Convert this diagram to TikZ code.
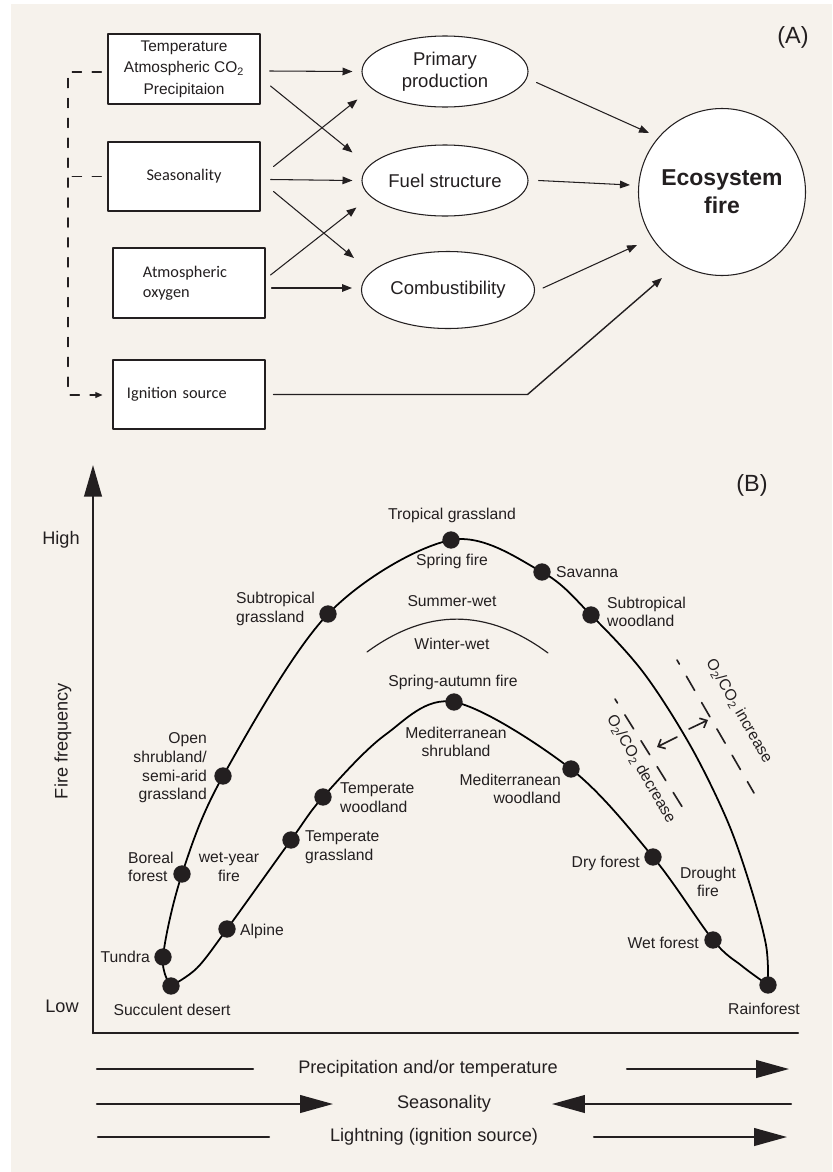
\documentclass[tikz,border=0pt]{standalone}
\usepackage{fontspec}
\setmainfont{Liberation Sans}
\newfontfamily\calibri{Carlito}
\usetikzlibrary{arrows.meta, calc, shapes.geometric}
\definecolor{paper}{RGB}{246,242,236}
\definecolor{ink}{RGB}{35,31,32}
\pgfdeclarelayer{bg}
\pgfdeclarelayer{lines}
\pgfsetlayers{bg,lines,main}

\begin{document}
\begin{tikzpicture}[x=0.03cm, y=-0.03cm, >=Latex, line cap=round, line join=round, color=ink,
	cause/.style={draw=ink, fill=white, line width=0.9pt, inner sep=0pt, minimum width=4.56cm,
		minimum height=2.1cm, align=center, font=\fontsize{13.2}{18.3}\selectfont},
	causeC/.style={cause, align=left, font=\calibri\fontsize{13.9}{17}\selectfont},
	effect/.style={ellipse, draw=ink, fill=white, line width=0.9pt, inner sep=0pt, minimum width=4.98cm,
		minimum height=2.13cm, align=center, font=\fontsize{15.8}{18.8}\selectfont},
	arr/.style={-{Triangle[length=8.5pt,width=6.5pt]}, line width=0.9pt},
	dashline/.style={line width=0.9pt, dash pattern=on 8pt off 9pt},
	site/.style={circle, fill=ink, inner sep=0pt, minimum size=0.52cm},
	lab/.style={inner sep=0pt, font=\fontsize{13.4}{16}\selectfont},
	axislab/.style={inner sep=0pt, font=\fontsize{15.5}{18}\selectfont},
	fireline/.style={line width=1.5pt},
	o2line/.style={line width=1.4pt, dash pattern=on 14pt off 12pt, dash phase=10pt},
	trend/.style={line width=1.8pt},
	bigtip/.style={-{Triangle[length=28pt,width=15pt]}}]

\begin{pgfonlayer}{bg}
	\fill[white] (0,0) rectangle (832,1172);
	\fill[paper] (11,4) rectangle (832,1172);
\end{pgfonlayer}
\useasboundingbox (0,0) rectangle (832,1172);

% ==== (A): drivers of ecosystem fire ====
\begin{scope}
	\node[font=\fontsize{20}{24}\selectfont] (panelA) at (793,37) {(A)};
	
	% drivers
	\node[cause] (clim) at (184,69) {Temperature\\Atmospheric CO\textsubscript{2}\\Precipitaion};
	\node[causeC, align=center, minimum height=2.07cm] (seas) at (184,176.5) {Seasonality};
	\node[causeC, text width=2.76cm, inner xsep=0.9cm] (oxy) at (189,283) {Atmospheric\\oxygen};
	\node[causeC, text width=3.72cm, inner xsep=0.42cm, minimum height=2.07cm] (ign) at (189,394.5) {Ignition source};
	
	% fuel properties
	\node[effect] (prod) at (445,71.5) {Primary\\production};
	\node[effect] (fuel) at (445,180.5) {Fuel structure};
	\node[effect, minimum width=5.19cm, minimum height=2.31cm] (comb) at (448,290) {Combustibility};
	
	\node[circle, draw=ink, fill=white, line width=0.9pt, inner sep=0pt, minimum size=5.01cm, align=center,
	font=\bfseries\fontsize{19.6}{24}\selectfont] (fire) at (722,192) {Ecosystem\\fire};
	
	% drivers -> fuel properties
	\draw[arr] ($(clim.east)+(9,2)$) -- ($(prod.west)+(-9,0)$);
	\draw[arr] ($(clim.east)+(10,17)$) -- ($(fuel.west)+(-9,-28)$);
	\draw[arr] ($(seas.east)+(13,-10)$) -- ($(prod.west)+(-4,28)$);
	\draw[arr] ($(seas.east)+(10,3)$) -- ($(fuel.west)+(-9,0)$);
	\draw[arr] ($(seas.east)+(13,15)$) -- ($(comb.west)+(-7,-32)$);
	\draw[arr] ($(oxy.east)+(5,-8)$) -- ($(fuel.west)+(-5,27)$);
	\draw[arr] ($(oxy.east)+(6,5)$) -- ($(comb.west)+(-9,-2)$);
	
	% fuel properties -> fire
	\draw[arr] ($(prod.east)+(8,11)$) -- ($(fire.center)+(-73,-59)$);
	\draw[arr] ($(fuel.east)+(10,0)$) -- ($(fire.west)+(-8,-7)$);
	\draw[arr] ($(comb.east)+(8,-2)$) -- ($(fire.center)+(-85,53)$);
	\draw[arr, line width=1.2pt] ($(ign.east)+(8,0)$) -- ++(254,0) -- ($(fire.center)+(-60,86)$);
	
	% climate link to ignition
	\coordinate (dtop) at (68,72);
	\coordinate (dbot) at (68,395);
	\draw[dashline, -{Triangle[length=6pt,width=5pt]}] ($(clim.west)+(-6,3)$) -- (dtop) -- (dbot) -- ($(ign.west)+(-10,0.5)$);
	\draw[dashline] ($(seas.west)+(-6,0)$) -- (dtop |- seas.west);
\end{scope}

% ==== (B): fire frequency along the climate gradient ====
\begin{scope}
	\node[font=\fontsize{20}{24}\selectfont] (panelB) at (752,485) {(B)};
	
	% axes
	\coordinate (orig) at (93,1033);
	\coordinate (ytop) at (93,465);
	\coordinate (xend) at (798,1033);
	\draw[line width=2pt, -{Triangle[length=27pt,width=15pt]}] (orig) -- (ytop);
	\draw[line width=2pt] (orig) -- (xend);
	\node[axislab] (high) at (61,540) {High};
	\node[axislab] (low) at (62,1006) {Low};
	\node[axislab, rotate=90] (freq) at (63,741) {Fire frequency};
	
	% biomes
	\node[site] (desert) at (171,986) {};
	\node[site] (tundra) at (163,957) {};
	\node[site] (boreal) at (182,874) {};
	\node[site] (shrub) at (223,776) {};
	\node[site] (subgrass) at (328,614) {};
	\node[site] (tropgrass) at (451,540) {};
	\node[site] (savanna) at (542,572) {};
	\node[site] (subwood) at (591,615) {};
	\node[site] (rain) at (768,985) {};
	\node[site] (alpine) at (227,929) {};
	\node[site] (tempgrass) at (291,840) {};
	\node[site] (tempwood) at (323,797) {};
	\node[site] (medshrub) at (454,702) {};
	\node[site] (medwood) at (571,769) {};
	\node[site] (dryfor) at (653,857) {};
	\node[site] (wetfor) at (713,940) {};
	
	\coordinate (o1) at (643,672);
	\coordinate (o2) at (690,745);
	\coordinate (o3) at (727,820);
	\coordinate (o4) at (750,885);
	\coordinate (o5) at (766,945);
	\coordinate (i1) at (197,968);
	\coordinate (i2) at (385,735);
	\coordinate (i3) at (742,966);
	
	\begin{pgfonlayer}{lines}
		% summer-wet loop
		\draw[fireline] plot[smooth, tension=0.55] coordinates {(desert) (tundra) (boreal) (shrub) (subgrass)
			(tropgrass) (savanna) (subwood) (o1) (o2) (o3) (o4) (o5) (rain)};
		% winter-wet loop
		\draw[fireline] plot[smooth, tension=0.55] coordinates {(desert) (i1) (alpine) (tempgrass) (tempwood) (i2)
			(medshrub) (medwood) (dryfor) (wetfor) (i3) (rain)};
	\end{pgfonlayer}
	
	% divide between the two regimes
	\coordinate (ww1) at (367,652);
	\coordinate (ww2) at (548,653);
	\draw[line width=1pt] (ww1) .. controls (427,608) and (487,608) .. (ww2);
	
	% labels
	\node[lab] (tropgrassL) at (452,515) {Tropical grassland};
	\node[lab] (springL) at (452,561) {Spring fire};
	\node[lab, anchor=west] (savannaL) at (556,572) {Savanna};
	\node[lab, anchor=west, align=left] (subwoodL) at (607,612) {Subtropical\\woodland};
	\node[lab, anchor=west, align=left] (subgrassL) at (236,609) {Subtropical\\grassland};
	\node[lab] (summerL) at (452,601) {Summer-wet};
	\node[lab] (winterL) at (452,644) {Winter-wet};
	\node[lab] (springautL) at (453,682) {Spring-autumn fire};
	\node[lab, align=center] (medshrubL) at (456,742) {Mediterranean\\shrubland};
	\node[lab, anchor=east, align=right] (medwoodL) at (561,789) {Mediterranean\\woodland};
	\node[lab, anchor=west, align=left] (tempwoodL) at (340,798) {Temperate\\woodland};
	\node[lab, anchor=west, align=left] (tempgrassL) at (305,847) {Temperate\\grassland};
	\node[lab, anchor=east, align=right] (shrubL) at (207,768) {Open\\shrubland/\\semi-arid\\grassland};
	\node[lab, anchor=west, align=left] (borealL) at (128,867) {Boreal\\forest};
	\node[lab, align=center] (wetyearL) at (229,867) {wet-year\\fire};
	\node[lab, anchor=west] (alpineL) at (240,931) {Alpine};
	\node[lab, anchor=east] (tundraL) at (150,957) {Tundra};
	\node[lab] (desertL) at (172,1010) {Succulent desert};
	\node[lab, anchor=east] (dryforL) at (640,863) {Dry forest};
	\node[lab, align=center] (droughtL) at (708,882) {Drought\\fire};
	\node[lab, anchor=east] (wetforL) at (699,943) {Wet forest};
	\node[lab] (rainL) at (764,1009) {Rainforest};
	
	% oxygen / CO2 shifts
	\coordinate (inc1) at (677,660);
	\coordinate (inc2) at (754,793);
	\coordinate (dec1) at (615,699);
	\coordinate (dec2) at (686,813);
	\draw[o2line] (inc1) -- (inc2);
	\draw[o2line] (dec1) -- (dec2);
	\coordinate (incA) at (689,729);
	\coordinate (decA) at (677,737);
	\draw[line width=1.4pt, -{Straight Barb[length=5pt,width=9pt]}] (incA) -- ++(19,-9);
	\draw[line width=1.4pt, -{Straight Barb[length=5pt,width=9pt]}] (decA) -- ++(-20,10);
	\node[lab, rotate=-60] (incL) at (739,711) {O\textsubscript{2}/CO\textsubscript{2} increase};
	\node[lab, rotate=-60] (decL) at (641,769) {O\textsubscript{2}/CO\textsubscript{2} decrease};
	
	% gradients below the axis
	\node[axislab] (precip) at (428,1069) {Precipitation and/or temperature};
	\node[axislab] (seasB) at (444,1104) {Seasonality};
	\node[axislab] (light) at (434,1137) {Lightning (ignition source)};
	\draw[trend] ($(precip)+(-331,0)$) -- ($(precip)+(-175,0)$);
	\draw[trend, bigtip] ($(precip)+(199,0)$) -- ($(precip)+(361,0)$);
	\draw[trend, bigtip] ($(seasB)+(-347,0)$) -- ($(seasB)+(-111,0)$);
	\draw[trend, bigtip] ($(seasB)+(347,0)$) -- ($(seasB)+(108,0)$);
	\draw[trend] ($(light)+(-336,0)$) -- ($(light)+(-165,0)$);
	\draw[trend, bigtip] ($(light)+(160,0)$) -- ($(light)+(353,0)$);
\end{scope}

\end{tikzpicture}
\end{document}
